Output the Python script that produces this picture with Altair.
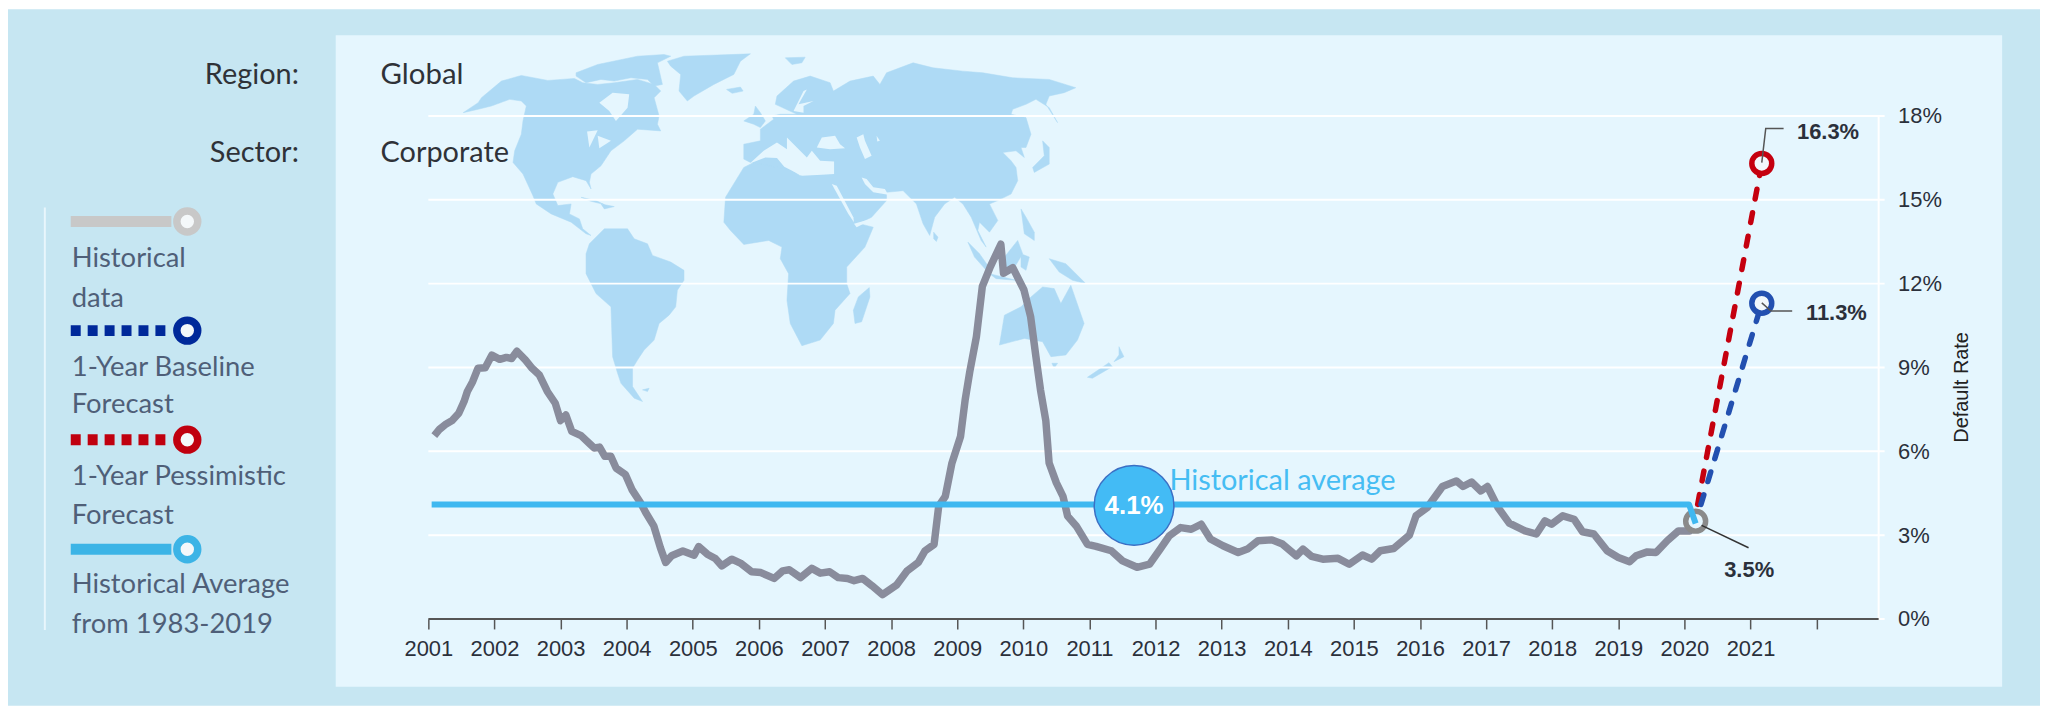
import altair as alt
import pandas as pd

# ---------- data ----------
hist_year = [2001.09,2001.17,2001.27,2001.36,2001.46,2001.54,2001.59,2001.67,2001.75,2001.86,2001.96,2002.08,2002.18,2002.26,2002.34,2002.47,2002.57,2002.68,2002.80,2002.92,2003.00,2003.08,2003.17,2003.31,2003.44,2003.51,2003.59,2003.67,2003.76,2003.84,2003.98,2004.08,2004.21,2004.29,2004.41,2004.51,2004.59,2004.68,2004.85,2005.02,2005.09,2005.22,2005.34,2005.44,2005.59,2005.72,2005.89,2006.03,2006.23,2006.36,2006.46,2006.63,2006.80,2006.93,2007.07,2007.20,2007.34,2007.44,2007.57,2007.71,2007.87,2008.08,2008.24,2008.41,2008.51,2008.65,2008.72,2008.82,2008.92,2009.05,2009.12,2009.19,2009.29,2009.38,2009.50,2009.66,2009.70,2009.84,2010.01,2010.11,2010.19,2010.26,2010.34,2010.39,2010.50,2010.60,2010.67,2010.80,2010.97,2011.10,2011.33,2011.50,2011.72,2011.91,2012.07,2012.21,2012.38,2012.54,2012.69,2012.83,2013.02,2013.25,2013.39,2013.55,2013.76,2013.92,2014.13,2014.23,2014.36,2014.53,2014.76,2014.93,2015.13,2015.27,2015.40,2015.60,2015.84,2015.94,2016.11,2016.34,2016.55,2016.65,2016.78,2016.92,2017.02,2017.18,2017.35,2017.59,2017.76,2017.89,2017.99,2018.16,2018.33,2018.46,2018.63,2018.83,2019.00,2019.17,2019.27,2019.44,2019.57,2019.74,2019.91,2020.08,2020.17]
hist_rate = [6.56,6.79,6.98,7.10,7.36,7.78,8.14,8.49,8.97,8.99,9.44,9.29,9.36,9.32,9.58,9.26,8.97,8.73,8.14,7.72,7.10,7.30,6.71,6.56,6.27,6.12,6.15,5.82,5.82,5.40,5.17,4.63,4.16,3.80,3.33,2.55,2.02,2.26,2.43,2.28,2.59,2.32,2.16,1.90,2.14,2.00,1.69,1.66,1.45,1.72,1.76,1.48,1.81,1.64,1.69,1.48,1.45,1.37,1.45,1.19,0.87,1.21,1.72,2.02,2.43,2.67,4.04,4.39,5.58,6.53,7.84,8.85,10.1,11.9,12.6,13.41,12.37,12.57,11.77,10.82,9.39,8.19,7.1,5.58,4.87,4.39,3.68,3.33,2.67,2.60,2.44,2.08,1.85,1.96,2.5,2.98,3.27,3.21,3.39,2.86,2.62,2.38,2.5,2.80,2.83,2.68,2.26,2.5,2.24,2.14,2.17,1.96,2.29,2.14,2.44,2.52,3.0,3.69,3.99,4.74,4.94,4.74,4.90,4.58,4.74,3.99,3.43,3.15,3.04,3.51,3.39,3.69,3.57,3.12,3.04,2.44,2.2,2.05,2.26,2.40,2.38,2.80,3.15,3.15,3.5]
avg_year = [2001.05, 2020.07, 2020.17]
avg_rate = [4.1, 4.1, 3.42]
pess_year = [2020.20, 2021.17]
pess_rate = [4.1, 16.3]
base_year = [2020.25, 2021.17]
base_rate = [4.1, 11.3]
year_ticks = list(range(2001, 2023))
rate_ticks = [0, 3, 6, 9, 12, 15, 18]

land = [
 [(15,215),(60,185),(70,170),(130,120),(190,103),(270,118),(350,112),(375,125),(420,130),(470,125),(540,115),(590,130),(610,150),(590,170),(605,225),(600,250),(610,270),(540,265),(500,300),(460,330),(430,375),(400,400),(395,425),(400,445),(385,420),(345,408),(300,425),(285,460),(300,495),(340,490),(335,520),(365,535),(375,565),(400,585),(385,580),(340,545),(280,520),(235,490),(225,465),(195,400),(165,365),(170,330),(190,280),(195,240),(205,195),(190,180),(155,175),(100,195),(60,205)],
 [(355,95),(420,70),(540,45),(620,40),(640,45),(600,65),(615,130),(590,135),(570,115),(520,110),(470,120),(430,115),(385,125),(355,105)],
 [(630,60),(680,45),(880,38),(850,60),(830,100),(770,130),(710,165),(690,180),(665,150),(670,100),(640,75)],
 [(808,145),(850,138),(858,150),(825,157)],
 [(985,50),(1045,48),(1035,65),(1005,70)],
 [(370,470),(415,480),(440,492),(400,482)],
 [(430,490),(470,498),(440,505)],
 [(385,640),(395,610),(440,565),(510,565),(530,595),(570,610),(585,645),(640,665),(680,690),(680,720),(660,750),(655,800),(635,825),(605,850),(590,900),(560,930),(540,960),(525,985),(525,1040),(555,1085),(530,1075),(490,1030),(480,1000),(465,950),(460,800),(415,760),(385,700)],
 [(555,1050),(575,1045),(570,1055)],
 [(800,545),(805,470),(860,380),(890,365),(920,360),(940,340),(985,375),(1030,405),(1060,385),(1130,400),(1130,425),(1190,545),(1250,560),(1225,620),(1170,680),(1170,730),(1180,760),(1135,810),(1130,850),(1090,900),(1035,917),(1000,850),(990,780),(995,700),(970,655),(975,620),(935,600),(860,612),(820,570)],
 [(1238,742),(1240,770),(1215,845),(1195,850),(1190,810),(1205,770)],
 [(860,310),(910,300),(910,265),(950,235),(945,225),(970,220),(1020,220),(955,190),(960,165),(1010,120),(1060,105),(1120,125),(1130,150),(1180,120),(1250,105),(1270,130),(1290,95),(1370,65),(1430,80),(1520,90),(1580,95),(1670,110),(1780,115),(1860,140),(1825,155),(1780,165),(1770,190),(1805,245),(1780,200),(1740,175),(1710,190),(1670,205),(1665,220),(1710,230),(1725,280),(1710,320),(1695,320),(1705,350),(1680,330),(1640,335),(1665,360),(1680,380),(1685,420),(1665,460),(1625,480),(1600,490),(1625,540),(1600,575),(1570,545),(1565,570),(1590,620),(1575,600),(1545,530),(1520,490),(1495,470),(1465,490),(1435,530),(1420,585),(1400,550),(1380,490),(1340,450),(1290,455),(1290,480),(1245,530),(1195,555),(1125,430),(1130,395),(1020,390),(880,365),(860,355)],
 [(895,195),(910,215),(925,240),(910,260),(890,250),(860,240),(890,220)],
 [(1760,300),(1780,320),(1780,370),(1735,395),(1730,380),(1765,345)],
 [(1432,575),(1445,590),(1440,603),(1432,595)],
 [(1695,505),(1710,530),(1735,575),(1735,600),(1705,580)],
 [(1535,605),(1570,640),(1605,690),(1595,695),(1555,650)],
 [(1600,700),(1680,720),(1620,715)],
 [(1645,650),(1685,600),(1700,640),(1670,690),(1650,690)],
 [(1695,640),(1720,650),(1710,690),(1695,680)],
 [(1780,655),(1830,670),(1890,730),(1850,720),(1810,695)],
 [(1630,915),(1645,825),(1695,800),(1725,770),(1760,740),(1795,745),(1815,790),(1845,735),(1885,850),(1865,900),(1830,945),(1785,950),(1760,905),(1705,895)],
 [(1788,970),(1805,970),(1795,985)],
 [(1990,920),(2005,950),(1975,965),(1990,945)],
 [(1960,968),(1895,1012),(1910,1015),(1970,980)],
]
sea = [
 [(425,185),(465,155),(515,160),(510,200),(475,240),(455,210)],
 [(388,272),(420,268),(395,320)],
 [(420,285),(460,300),(425,322)],
 [(190,400),(215,465),(208,467),(185,425)],
 [(878,368),(920,330),(960,305),(990,325),(990,290),(1020,320),(1050,350),(1065,330),(1090,360),(1132,362),(1132,400),(1095,402),(1035,405),(982,378),(960,352),(925,350)],
 [(1080,320),(1095,290),(1135,285),(1150,310),(1165,322),(1120,325)],
 [(1200,290),(1220,280),(1225,300),(1245,345),(1225,355),(1210,320)],
 [(1260,285),(1270,300),(1262,302)],
 [(1125,430),(1140,435),(1190,530),(1192,545),(1175,520)],
 [(1215,410),(1230,415),(1250,440),(1285,445),(1295,462),(1250,455),(1225,430)],
 [(1192,550),(1260,530),(1200,560)],
 [(1010,210),(1040,150),(1050,145),(1025,190),(1070,180),(1040,195),(1040,215)],
]

WIDTH, HEIGHT = 1462, 505
SANS = "Liberation Sans"
NARROW = "Lato"
INK = "#2b303b"
DARK = "#2f3238"

def gx(page_x):
    return page_x - 430

def gy(page_y):
    return page_y - 115

x_scale = alt.Scale(domain=[2001, 2001 + WIDTH / 66.37], nice=False, zero=False)
y_scale = alt.Scale(domain=[0, 18], nice=False)
x_axis = alt.Axis(
    values=year_ticks, labelExpr="datum.value > 2021 ? '' : format(datum.value, 'd')", title=None,
    grid=False, domain=False, tickSize=10, tickColor="#555", tickWidth=1.5, labelFlush=False,
    labelFont=SANS, labelFontSize=22, labelColor=INK, labelPadding=10, labelOverlap=False, zindex=1)
y_axis = alt.Axis(
    orient="right", values=rate_ticks, labelExpr="datum.value + '%'", title="Default Rate",
    grid=False, domain=False, ticks=False, labelFont=SANS, labelFontSize=22, labelColor=INK,
    labelPadding=13, labelFlush=False, titleFont=SANS, titleFontSize=20, titleFontWeight="normal", titleColor="#222",
    titleAngle=270, titleX=87, titleY=272, labelOverlap=False, zindex=1)
X = alt.X("x:Q", scale=x_scale, axis=x_axis)
Y = alt.Y("y:Q", scale=y_scale, axis=y_axis)

def features(rings):
    return alt.InlineData(
        values={"type": "FeatureCollection", "features": [
            {"type": "Feature", "properties": {},
             "geometry": {"type": "Polygon", "coordinates": [[list(p) for p in r + [r[0]]]]}}
            for r in rings]},
        format=alt.DataFormat(property="features", type="json"))

map_proj = dict(type="identity", scale=1 / 3, translate=[30, -75])

one = pd.DataFrame({"a": [0]})

def box(x0, x1, y0, y1, color):
    return alt.Chart(one).mark_rect(color=color).encode(
        x=alt.value(gx(x0)), x2=alt.value(gx(x1)), y=alt.value(gy(y0)), y2=alt.value(gy(y1)))

def label(page_x, page_y, text, size=27.5, font=NARROW, color="#4f5f78", align="left", weight="normal"):
    return alt.Chart(one).mark_text(text=text, fontSize=size, font=font, color=color,
                                    align=align, baseline="middle", fontWeight=weight).encode(
        x=alt.value(gx(page_x)), y=alt.value(gy(page_y)))

def series(xs, ys):
    return pd.DataFrame({"x": xs, "y": ys})

def line(xs, ys, color, width, **kw):
    return alt.Chart(series(xs, ys)).mark_line(color=color, strokeWidth=width, clip=False, **kw).encode(
        x=X, y=Y, order="i:Q").transform_window(i="row_number()")

def ring(xv, yv, color, fill="#f2f8fc"):
    return alt.Chart(series([xv], [yv])).mark_point(
        filled=False, size=400, stroke=color, strokeWidth=5.5, fill=fill, fillOpacity=1, opacity=1).encode(x=X, y=Y)

def legend_line(y, color, dash=None):
    kw = {"strokeDash": dash} if dash else {}
    rule = alt.Chart(one).mark_rule(color=color, strokeWidth=11, **kw).encode(
        x=alt.value(gx(71)), x2=alt.value(gx(172)), y=alt.value(gy(y)))
    pt = alt.Chart(one).mark_point(filled=False, size=440, stroke=color, strokeWidth=7.5,
                                   fill="#f4f8fa", fillOpacity=1, opacity=1).encode(
        x=alt.value(gx(188)), y=alt.value(gy(y)))
    return rule + pt

grid = alt.Chart(pd.DataFrame({"y": rate_ticks})).mark_rule(color="white", strokeWidth=2).encode(
    y=Y, x=alt.value(0), x2=alt.value(WIDTH))

axis_chart = alt.Chart(pd.DataFrame({"x": [2001.0], "y": [0.0]})).mark_point(opacity=0).encode(x=X, y=Y)

chart = alt.layer(
    axis_chart,
    box(8, 2048, 8, 707, "#c6e6f2"),
    box(337, 2010, 34, 688, "#e5f6fe"),
    alt.Chart(features(land)).mark_geoshape(fill="#aedaf5", stroke="#aedaf5", strokeWidth=0.5, clip=False).project(**map_proj),
    alt.Chart(features(sea)).mark_geoshape(fill="#e5f6fe", clip=False).project(**map_proj),
    grid,
    alt.Chart(one).mark_rule(color="white", strokeWidth=2).encode(x=alt.value(gx(1886)), y=alt.value(0), y2=alt.value(HEIGHT)),
    alt.Chart(one).mark_rule(color="#555", strokeWidth=2).encode(x=alt.value(0), x2=alt.value(gx(1886)), y=alt.value(HEIGHT)),
    line(hist_year, hist_rate, "#898c9c", 7.5, strokeJoin="round"),
    line(pess_year, pess_rate, "#c5000f", 5.5, strokeDash=[10, 14], strokeCap="round"),
    line(base_year, base_rate, "#2350b0", 5.5, strokeDash=[10, 14], strokeCap="round"),
    ring(2020.17, 3.5, "#8a8a8a", fill="#e5f6fe"),
    line(avg_year, avg_rate, "#3fb8f0", 6, strokeJoin="round"),
    ring(2021.17, 16.3, "#c5000f"),
    ring(2021.17, 11.3, "#2350b0"),
    line([2021.17, 2021.23, 2021.50], [16.33, 17.55, 17.55], "#555", 1.5),
    line([2021.17, 2021.31, 2021.63], [11.31, 11.02, 11.02], "#555", 1.5),
    line([2020.26, 2020.97], [3.35, 2.55], "#333", 1.5),
    alt.Chart(one).mark_point(filled=True, size=6400, color="#43bbf5", stroke="#3b6fc4", strokeWidth=1.5, opacity=1).encode(
        x=alt.value(gx(1138.5)), y=alt.value(gy(506))),
    label(1138.5, 507, "4.1%", size=26, font=SANS, color="white", align="center", weight="bold"),
    label(1174, 482, "Historical average", size=29, color="#45bdf3"),
    label(1804, 131, "16.3%", size=22, font=SANS, color=INK, weight="bold"),
    label(1813, 313, "11.3%", size=22, font=SANS, color=INK, weight="bold"),
    label(1756, 571, "3.5%", size=22, font=SANS, color=INK, align="center", weight="bold"),
    label(300, 74, "Region:", size=29, color=DARK, align="right"),
    label(300, 152.5, "Sector:", size=29, color=DARK, align="right"),
    label(382, 74, "Global", size=29.5, color=DARK),
    label(382, 152.5, "Corporate", size=29, color=DARK),
    alt.Chart(one).mark_rule(color="#e8f6fc", strokeWidth=2).encode(x=alt.value(gx(45)), y=alt.value(gy(207)), y2=alt.value(gy(631))),
    legend_line(221, "#c8c8c8"),
    label(72, 259, "Historical"),
    label(72, 299, "data"),
    legend_line(330.5, "#00299a", [10, 7]),
    label(72, 368, "1-Year Baseline"),
    label(72, 405, "Forecast"),
    legend_line(440, "#c0000f", [10, 7]),
    label(72, 477, "1-Year Pessimistic"),
    label(72, 517, "Forecast"),
    legend_line(550, "#3cb4e6"),
    label(72, 586, "Historical Average"),
    label(72, 626, "from 1983-2019"),
).resolve_scale(x="shared", y="shared").properties(
    width=WIDTH, height=HEIGHT, padding=0, background="white"
).configure_view(stroke=None)

chart.save("out.html", embed_options={"renderer": "svg", "actions": False})
